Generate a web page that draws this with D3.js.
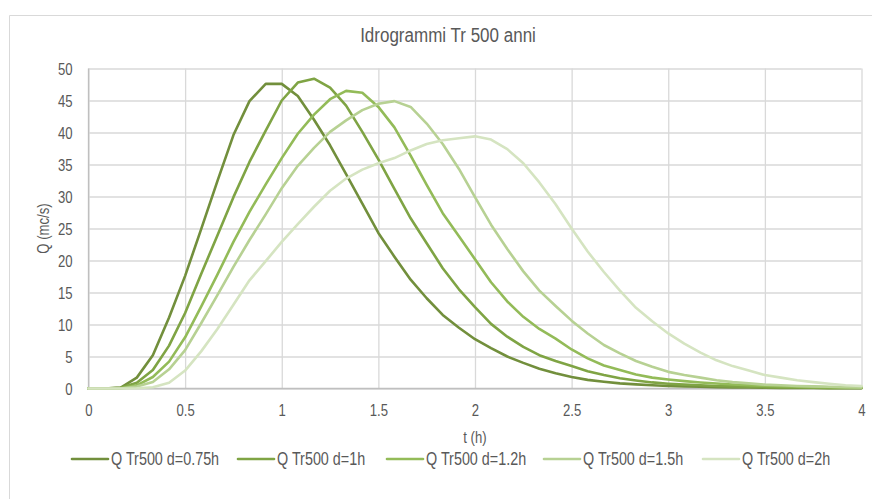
<!DOCTYPE html>
<html>
<head>
<meta charset="utf-8">
<script src="https://cdn.jsdelivr.net/npm/d3@7"></script>
<style>
  html, body { margin: 0; padding: 0; background: #ffffff; }
  svg { display: block; }
  text { font-family: "Liberation Sans", Arial, sans-serif; fill: #595959; }
</style>
</head>
<body>
<svg id="chart" width="872" height="499"></svg>
<script>
// ---- data ----
const title = "Idrogrammi Tr 500 anni";
const xTitle = "t (h)";
const yTitle = "Q (mc/s)";
const seriesNames = ["Q Tr500 d=0.75h", "Q Tr500 d=1h", "Q Tr500 d=1.2h", "Q Tr500 d=1.5h", "Q Tr500 d=2h"];
const times = [0, 0.083, 0.167, 0.25, 0.333, 0.417, 0.5, 0.583, 0.667, 0.75, 0.833, 0.917,
  1, 1.083, 1.167, 1.25, 1.333, 1.417, 1.5, 1.583, 1.667, 1.75, 1.833, 1.917,
  2, 2.083, 2.167, 2.25, 2.333, 2.417, 2.5, 2.583, 2.667, 2.75, 2.833, 2.917,
  3, 3.083, 3.167, 3.25, 3.333, 3.417, 3.5, 3.583, 3.667, 3.75, 3.833, 3.917, 4];
const q075 = [0,0,0.15,1.7,5.2, 11.1,17.6,24.9,32.4,39.6, 44.9,47.6,47.6,45.7,42.0, 38.0,33.5,28.9,24.3,20.6,
  17.0,14.1,11.5,9.5,7.7, 6.3,5.0,4.0,3.1,2.4, 1.8,1.35,1.05,0.8,0.65, 0.5,0.4,0.33,0.27,0.22,
  0.18,0.15,0.12,0.1,0.08, 0.07,0.06,0.05,0.04];
const q1 = [0,0,0.1,0.9,2.9, 6.7,11.8,17.9,23.9,29.9, 35.4,40.3,45.0,47.8,48.4, 47.0,44.2,40.1,35.8,31.2,
  26.6,22.7,18.8,15.5,12.7, 10.1,8.1,6.5,5.2,4.3, 3.5,2.7,2.1,1.6,1.25, 0.95,0.75,0.6,0.5,0.4,
  0.33,0.27,0.22,0.18,0.15, 0.12,0.1,0.08,0.07];
const q12 = [0,0,0.05,0.5,1.8, 4.2,8.0,12.8,17.8,22.9, 27.6,31.9,36.0,39.8,42.8, 45.2,46.5,46.2,44.0,40.8,
  36.4,31.8,27.4,23.8,20.2, 16.6,13.6,11.2,9.3,7.8, 6.1,4.7,3.6,2.9,2.2, 1.7,1.4,1.15,0.94,0.78,
  0.62,0.5,0.42,0.35,0.3, 0.25,0.2,0.17,0.14];
const q15 = [0,0,0,0.3,1.0, 3.0,6.0,10.2,14.6,19.0, 23.2,27.2,31.3,34.8,37.6, 40.1,41.9,43.5,44.5,44.9,
  44.0,41.4,38.2,34.3,29.9, 25.6,21.8,18.3,15.3,12.9, 10.6,8.6,6.8,5.5,4.3, 3.4,2.6,2.1,1.7,1.3,
  1.0,0.8,0.6,0.5,0.4, 0.33,0.27,0.22,0.18];
const q2 = [0,0,0,0.05,0.2, 0.9,2.8,5.8,9.3,13.1, 16.9,19.9,22.9,25.7,28.4, 30.9,32.8,34.2,35.2,36.0,
  37.2,38.2,38.8,39.1,39.4, 38.9,37.4,35.2,32.2,28.8, 25.0,21.4,18.2,15.3,12.6, 10.5,8.6,7.0,5.6,4.4,
  3.5,2.8,2.1,1.7,1.3, 1.0,0.75,0.5,0.4];
const seriesValues = [q075, q1, q12, q15, q2];
const xTicks = [0, 0.5, 1, 1.5, 2, 2.5, 3, 3.5, 4];
const yTicks = [0, 5, 10, 15, 20, 25, 30, 35, 40, 45, 50];
const colors = ["#728f3c", "#7fa444", "#93bb58", "#b7d193", "#d5e4c1"];

// ---- layout ----
const svg = d3.select("#chart");
const W = 872, H = 499;
const plot = { left: 88.5, right: 861.5, top: 68.5, bottom: 388.5 };

// condense text horizontally (narrow face look)
function squeeze(sel, factor) {
  sel.each(function () {
    const w = this.getComputedTextLength();
    d3.select(this).attr("textLength", (w * factor).toFixed(2)).attr("lengthAdjust", "spacingAndGlyphs");
  });
}

svg.append("rect").attr("x", 0).attr("y", 0).attr("width", W).attr("height", H).attr("fill", "#ffffff");
svg.append("path").attr("d", `M9.5,${H} V15.5 H${W}`).attr("fill", "none").attr("stroke", "#d9d9d9").attr("stroke-width", 1);

const x = d3.scaleLinear().domain([0, 4]).range([plot.left, plot.right]);
const y = d3.scaleLinear().domain([0, 50]).range([plot.bottom, plot.top]);

// gridlines
const gx = svg.append("g").attr("transform", `translate(0,${plot.bottom})`)
  .call(d3.axisBottom(x).tickValues(xTicks).tickSize(-(plot.bottom - plot.top)).tickFormat(""));
gx.select(".domain").remove();
gx.selectAll(".tick line").attr("stroke", "#d9d9d9").attr("stroke-width", 1.3);

const gy = svg.append("g").attr("transform", `translate(${plot.left},0)`)
  .call(d3.axisLeft(y).tickValues(yTicks).tickSize(-(plot.right - plot.left)).tickFormat(""));
gy.select(".domain").remove();
gy.selectAll(".tick line").attr("stroke", "#d9d9d9").attr("stroke-width", 1.3);

// axis lines
svg.append("line").attr("x1", plot.left).attr("x2", plot.right).attr("y1", plot.bottom).attr("y2", plot.bottom)
  .attr("stroke", "#bfbfbf").attr("stroke-width", 1.3);
svg.append("line").attr("x1", plot.left).attr("x2", plot.left).attr("y1", plot.top).attr("y2", plot.bottom)
  .attr("stroke", "#bfbfbf").attr("stroke-width", 1.3);

// tick labels
const ax = svg.append("g").attr("transform", `translate(0,${plot.bottom})`)
  .call(d3.axisBottom(x).tickValues(xTicks).tickSize(0).tickPadding(0).tickFormat(d => String(d)));
ax.attr("font-family", null).attr("font-size", null);
ax.select(".domain").remove();
ax.selectAll("text").attr("y", 22).attr("dy", "0.35em").attr("font-size", 16).attr("fill", "#595959");

const ay = svg.append("g").attr("transform", `translate(${plot.left},0)`)
  .call(d3.axisLeft(y).tickValues(yTicks).tickSize(0).tickPadding(0).tickFormat(d => String(d)));
ay.attr("font-family", null).attr("font-size", null);
ay.select(".domain").remove();
ay.selectAll("text").attr("x", -16).attr("dy", "0.35em").attr("font-size", 16).attr("fill", "#595959");

// lines
const line = d3.line().x((d, i) => x(times[i])).y(d => y(d)).curve(d3.curveLinear);
svg.append("g").selectAll("path").data(seriesValues).join("path")
  .attr("d", d => line(d))
  .attr("fill", "none")
  .attr("stroke", (d, i) => colors[i])
  .attr("stroke-width", 2.6)
  .attr("stroke-linejoin", "round")
  .attr("stroke-linecap", "round");

// titles
const tTitle = svg.append("text").attr("x", 448).attr("y", 35).attr("dy", "0.35em").attr("text-anchor", "middle")
  .attr("font-size", 20).text(title);
const tX = svg.append("text").attr("x", (plot.left + plot.right) / 2).attr("y", 437).attr("dy", "0.35em")
  .attr("text-anchor", "middle").attr("font-size", 16).text(xTitle);
const tY = svg.append("text").attr("transform", `translate(43,${(plot.top + plot.bottom) / 2}) rotate(-90)`)
  .attr("dy", "0.35em").attr("text-anchor", "middle").attr("font-size", 16).text(yTitle);

// legend
const legendX = [72, 238, 387, 544, 703];
const lg = svg.append("g").attr("transform", "translate(0,459)");
const items = lg.selectAll("g").data(seriesNames).join("g")
  .attr("transform", (d, i) => `translate(${legendX[i]},0)`);
items.append("line").attr("x1", 0).attr("x2", 36).attr("y1", 0).attr("y2", 0)
  .attr("stroke", (d, i) => colors[i]).attr("stroke-width", 2.6).attr("stroke-linecap", "round");
const legendText = items.append("text").attr("x", 39).attr("dy", "0.35em").attr("font-size", 17.5).text(d => d);

squeeze(ax.selectAll("text"), 0.82);
squeeze(ay.selectAll("text"), 0.82);
squeeze(tTitle, 0.85);
squeeze(tX, 0.82);
squeeze(tY, 0.82);
squeeze(legendText, 0.82);
</script>
</body>
</html>
